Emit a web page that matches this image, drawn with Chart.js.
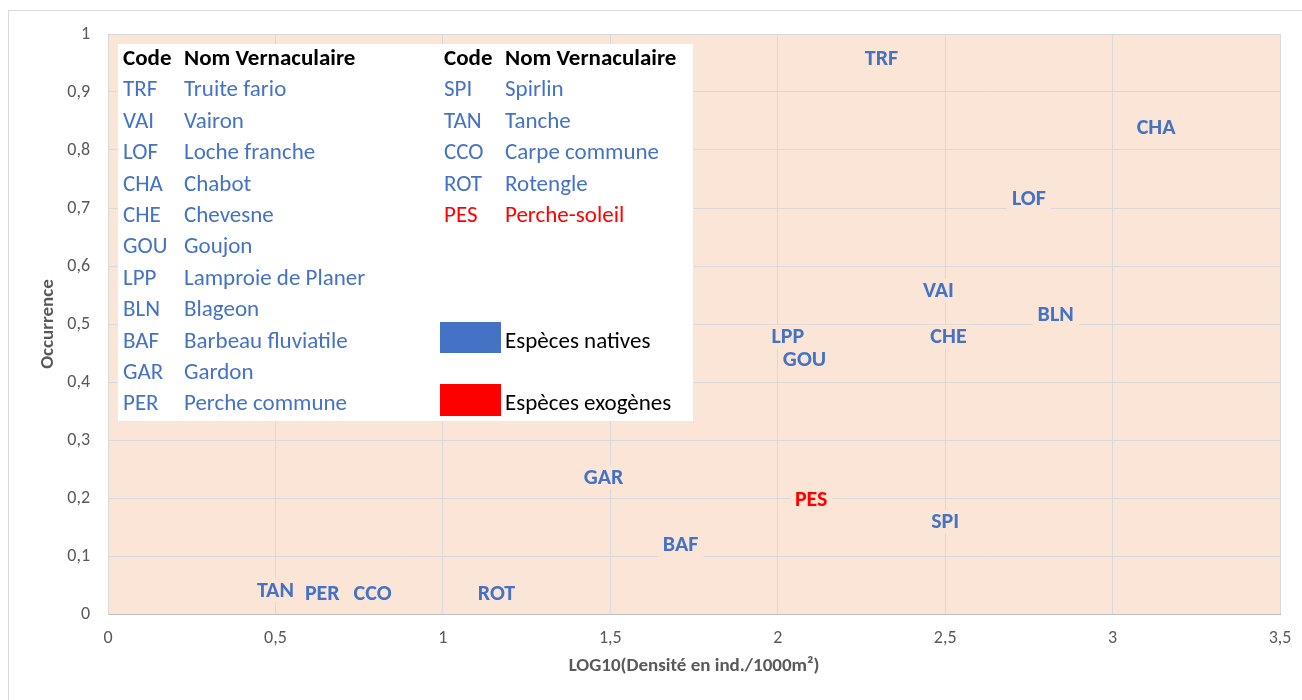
<!DOCTYPE html>
<html>
<head>
<meta charset="utf-8">
<script src="https://cdn.jsdelivr.net/npm/chart.js@4"></script>
<style>
  body { margin: 0; background: #fff; }
  #wrap { position: relative; width: 1302px; height: 700px; }
  #key {
    position: absolute; left: 118px; top: 44px; width: 575px; height: 377px;
    background: #fff; font-family: Carlito, Calibri, Lato, sans-serif; font-size: 23px;
  }
  #key .col { position: absolute; top: -2px; line-height: 31.4px; white-space: nowrap; color: #4472C4; }
  #key .head { color: #000; font-weight: bold; }
  #key .red { color: #FF0000; }
  #key .sw { position: absolute; left: 322px; width: 61px; }
  #key .txt { position: absolute; left: 387px; color: #000; line-height: 31.4px; white-space: nowrap; }
</style>
</head>
<body>
<div id="wrap">
  <canvas id="chart"></canvas>
  <div id="key"></div>
</div>
<script>
// species codes, x = log10 density, y = occurrence
const codes = ["TRF", "CHA", "LOF", "VAI", "BLN", "CHE", "LPP", "GOU", "GAR", "PES", "SPI", "BAF", "TAN", "PER", "CCO", "ROT"];
const logDensity = [2.31, 3.13, 2.75, 2.48, 2.83, 2.51, 2.03, 2.08, 1.48, 2.10, 2.50, 1.71, 0.50, 0.64, 0.79, 1.16];
const occurrence = [0.957, 0.838, 0.717, 0.557, 0.517, 0.478, 0.478, 0.438, 0.236, 0.198, 0.159, 0.119, 0.041, 0.036, 0.036, 0.036];
const exotic = ["PES"];

// key table
const keyCodesA = ["TRF", "VAI", "LOF", "CHA", "CHE", "GOU", "LPP", "BLN", "BAF", "GAR", "PER"];
const keyNamesA = ["Truite fario", "Vairon", "Loche franche", "Chabot", "Chevesne", "Goujon", "Lamproie de Planer", "Blageon", "Barbeau fluviatile", "Gardon", "Perche commune"];
const keyCodesB = ["SPI", "TAN", "CCO", "ROT", "PES"];
const keyNamesB = ["Spirlin", "Tanche", "Carpe commune", "Rotengle", "Perche-soleil"];
const groups = ["Espèces natives", "Espèces exogènes"];

const BLUE = "#4472C4";
const RED = "#FF0000";
const PEACH = "#FBE5D6";
const GRID = "#D9D9D9";
const FONT = "Carlito, Calibri, Lato, sans-serif";

function fmt(v) {
  return String(Number(v.toFixed(2))).replace(".", ",");
}

function buildKey() {
  const key = document.getElementById("key");
  const col = (left, head, items, cls) => {
    const d = document.createElement("div");
    d.className = "col";
    d.style.left = left + "px";
    let html = '<div class="head">' + head + "</div>";
    items.forEach((t, i) => {
      const red = cls && exotic.includes(cls[i]);
      html += "<div" + (red ? ' class="red"' : "") + ">" + t + "</div>";
    });
    d.innerHTML = html;
    key.appendChild(d);
  };
  col(5, "Code", keyCodesA);
  col(66, "Nom Vernaculaire", keyNamesA);
  col(326, "Code", keyCodesB, keyCodesB);
  col(387, "Nom Vernaculaire", keyNamesB, keyCodesB);

  [[BLUE, 278, 31, 9], [RED, 340, 32, 11]].forEach(([c, top, h, row], i) => {
    const s = document.createElement("div");
    s.className = "sw";
    s.style.top = top + "px";
    s.style.height = h + "px";
    s.style.background = c;
    key.appendChild(s);
    const t = document.createElement("div");
    t.className = "txt";
    t.style.top = (-2 + row * 31.4) + "px";
    t.textContent = groups[i];
    key.appendChild(t);
  });
}
buildKey();

const plotBg = {
  id: "plotBg",
  beforeDraw(chart) {
    const { ctx, chartArea: a } = chart;
    ctx.save();
    ctx.strokeStyle = GRID;
    ctx.lineWidth = 1;
    ctx.strokeRect(8.5, 10.5, 1400, 800);
    ctx.fillStyle = PEACH;
    ctx.fillRect(a.left, a.top, a.right - a.left, a.bottom - a.top);
    ctx.restore();
  },
};

const codeLabels = {
  id: "codeLabels",
  afterDatasetsDraw(chart) {
    const ctx = chart.ctx;
    const meta = chart.getDatasetMeta(0);
    ctx.save();
    ctx.font = "bold 22px " + FONT;
    ctx.textAlign = "center";
    ctx.textBaseline = "middle";
    meta.data.forEach((pt, i) => {
      const { x, y } = pt.getProps(["x", "y"], true);
      const w = ctx.measureText(codes[i]).width;
      ctx.fillStyle = PEACH;
      ctx.fillRect(x - w / 2 - 5, y - 12, w + 10, 24);
      ctx.fillStyle = exotic.includes(codes[i]) ? RED : BLUE;
      ctx.fillText(codes[i], x, y + 1);
    });
    ctx.restore();
  },
};

new Chart(document.getElementById("chart"), {
  type: "scatter",
  data: {
    datasets: [
      {
        data: codes.map((c, i) => ({ x: logDensity[i], y: occurrence[i] })),
        pointRadius: 0,
        pointHoverRadius: 0,
      },
    ],
  },
  options: {
    responsive: true,
    maintainAspectRatio: false,
    animation: false,
    layout: { padding: { top: 34, right: 22, left: 0, bottom: 0 } },
    plugins: { legend: { display: false }, tooltip: { enabled: false } },
    scales: {
      x: {
        type: "linear",
        min: 0,
        max: 3.5,
        afterFit: (s) => { s.height = 86; s.paddingRight = 0; s.paddingLeft = 0; },
        ticks: { stepSize: 0.5, color: "#595959", font: { family: FONT, size: 18 }, padding: 14, callback: fmt },
        grid: { color: GRID, drawTicks: false },
        border: { color: "#BFBFBF" },
        title: {
          display: true,
          text: "LOG10(Densité en ind./1000m²)",
          color: "#595959",
          font: { family: FONT, size: 19, weight: "bold" },
          padding: { top: 0, bottom: 22 },
        },
      },
      y: {
        min: 0,
        max: 1,
        afterFit: (s) => { s.width = 108; s.paddingTop = 0; s.paddingBottom = 0; },
        ticks: { stepSize: 0.1, color: "#595959", font: { family: FONT, size: 18 }, padding: 18, callback: fmt },
        grid: { color: GRID, drawTicks: false },
        border: { color: GRID },
        title: {
          display: true,
          text: "Occurrence",
          color: "#595959",
          font: { family: FONT, size: 19, weight: "bold" },
          padding: { top: 37, bottom: 0 },
        },
      },
    },
  },
  plugins: [plotBg, codeLabels],
});
</script>
</body>
</html>
